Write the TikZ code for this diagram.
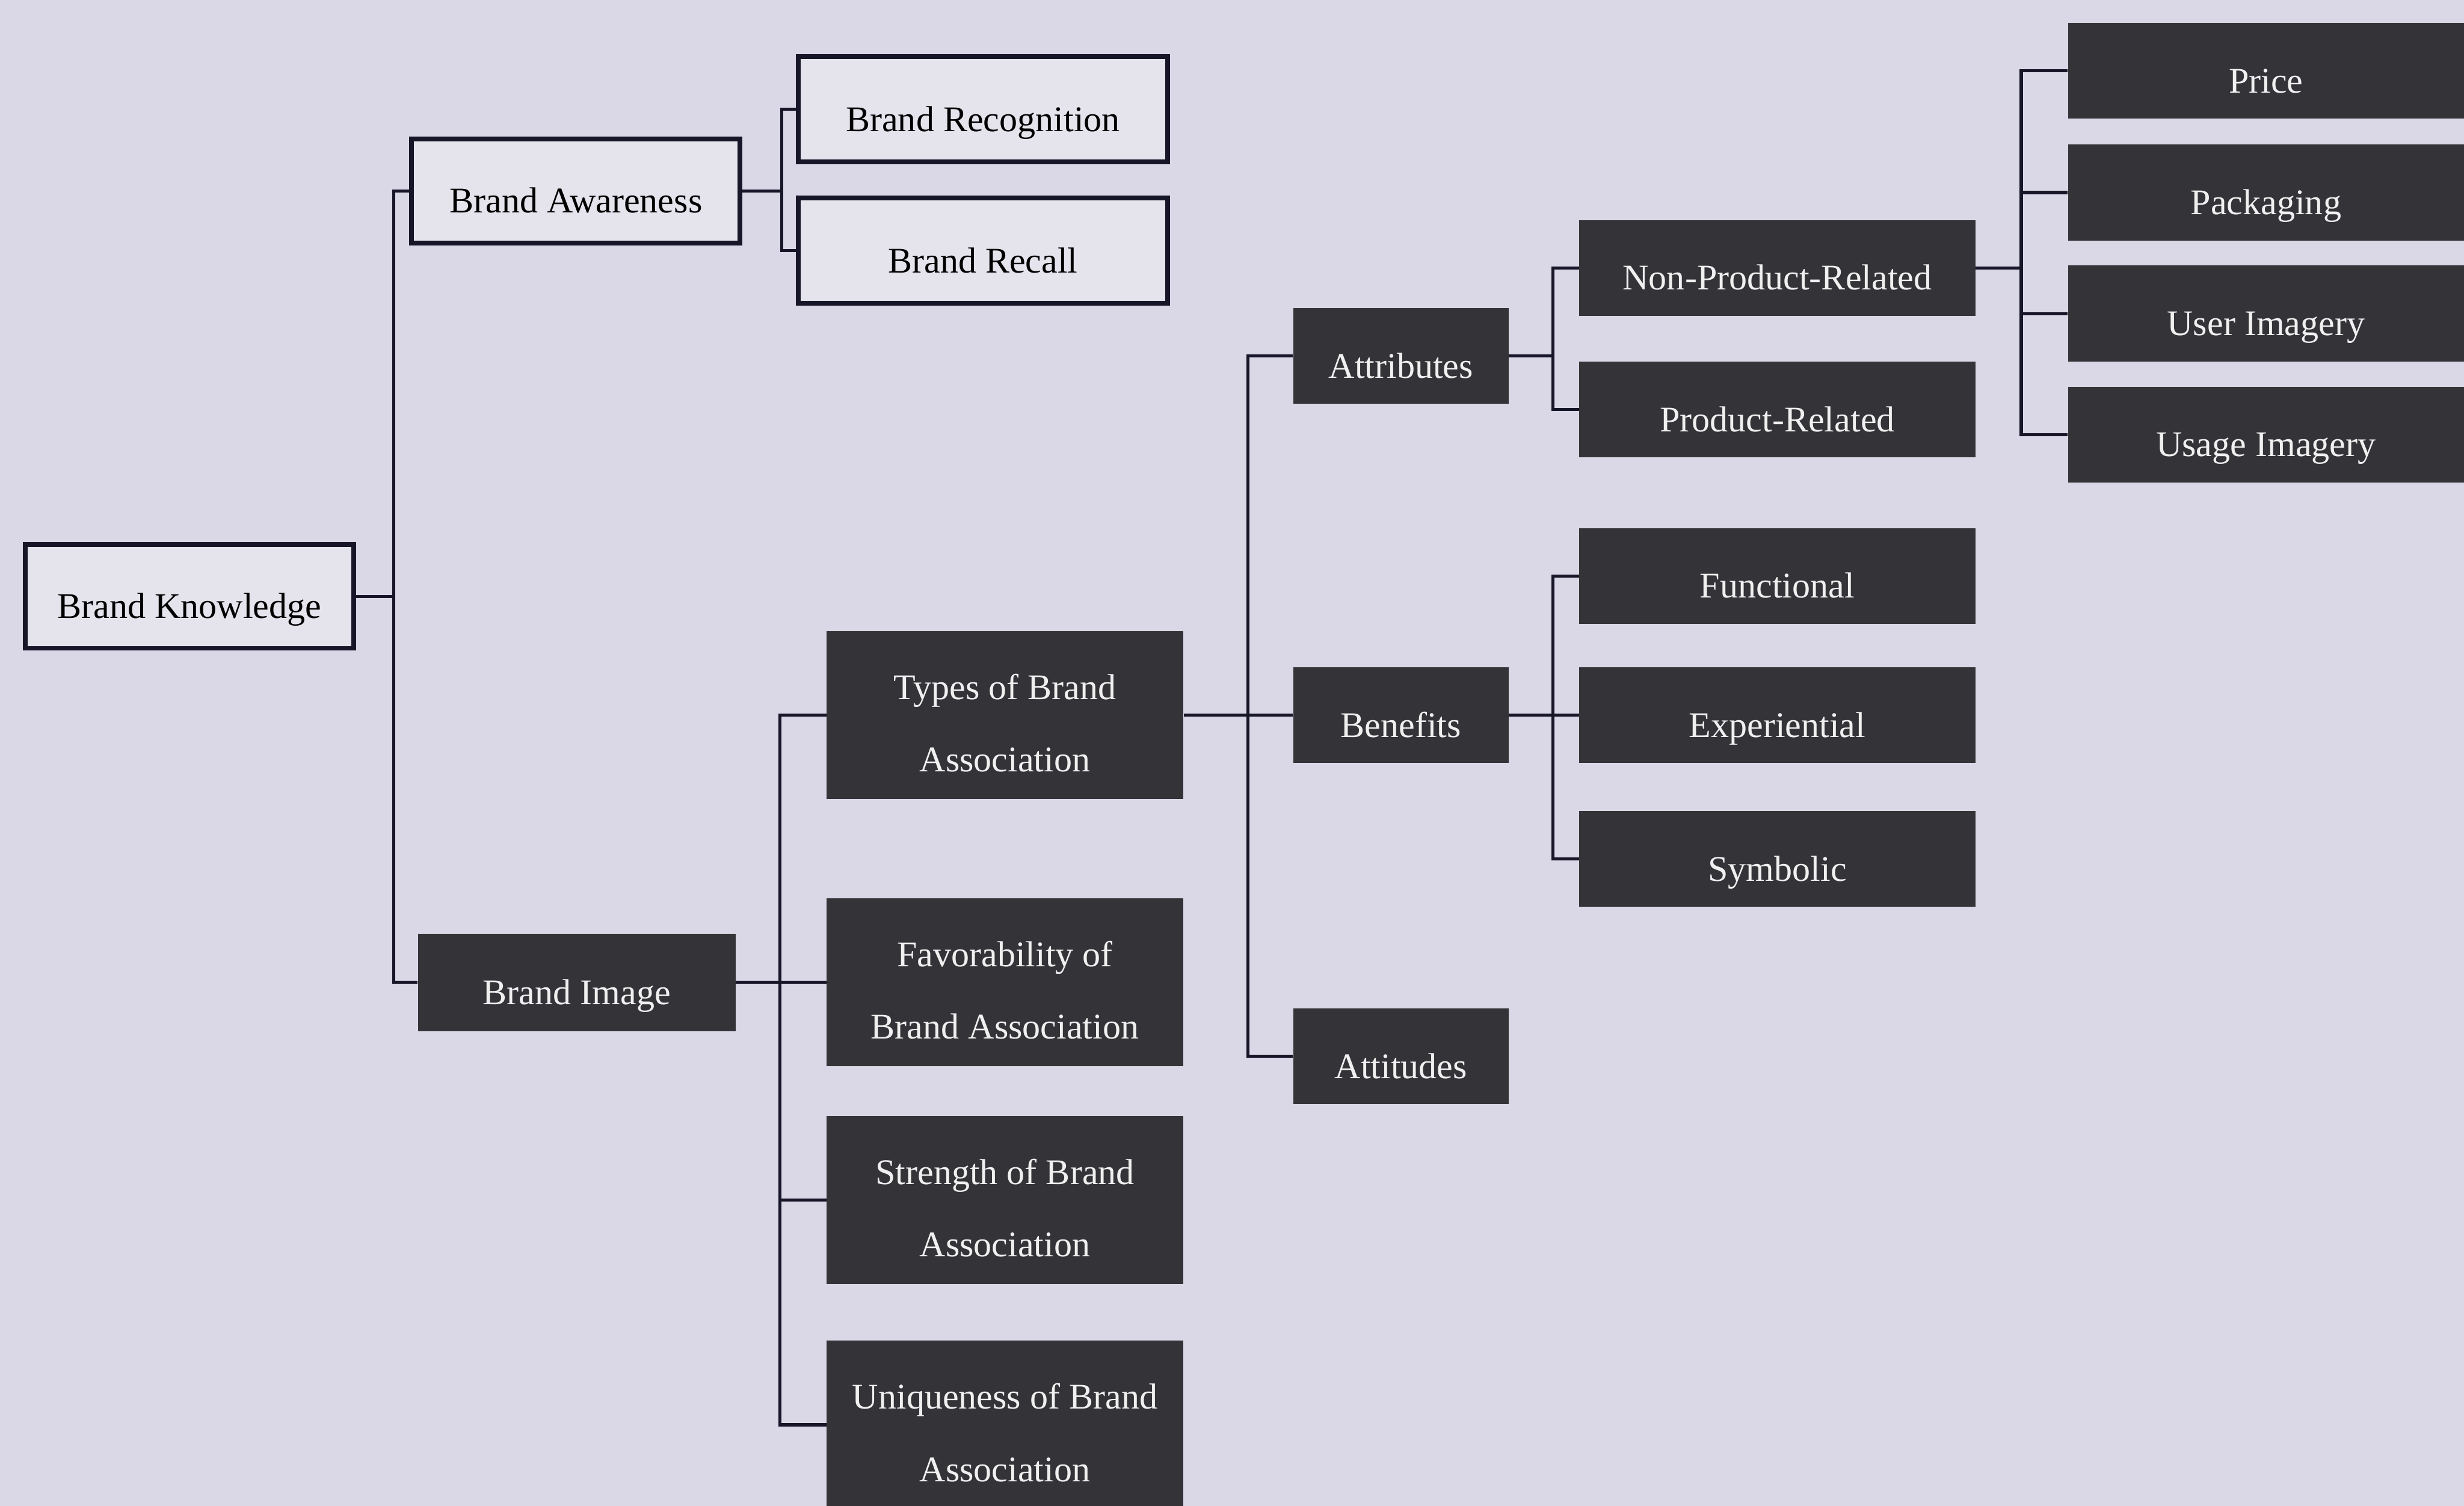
\documentclass[tikz,border=0pt]{standalone}
\usepackage{fontspec}
\setmainfont{Liberation Serif}
\definecolor{paper}{RGB}{218,215,230}
\definecolor{lightfill}{RGB}{229,227,236}
\definecolor{darkfill}{RGB}{52,51,55}
\definecolor{inkline}{RGB}{22,22,40}
\definecolor{lighttext}{RGB}{240,240,240}
\begin{document}
\begin{tikzpicture}[x=1pt,y=-1pt,
  every node/.style={inner sep=0pt, font=\fontsize{23}{46}\selectfont},
  lightbox/.style={draw=inkline, line width=3pt, fill=lightfill, text=black},
  darkbox/.style={fill=darkfill, text=lighttext},
  oneline/.style={text height=28pt, text depth=0pt},
  twoline/.style={align=center, text height=72pt, text depth=0pt},
  sizeA/.style={minimum width=209pt, minimum height=66pt},
  sizeB/.style={minimum width=235pt, minimum height=67pt},
  sizeC/.style={minimum width=227pt, minimum height=107pt},
  sizeD/.style={minimum width=137pt, minimum height=61pt},
  sizeE/.style={minimum width=252pt, minimum height=61pt},
  link/.style={draw=inkline, line width=2pt}]

% page
\fill[paper] (0,0) rectangle (1568,958);
\useasboundingbox (0,0) rectangle (1568,958);

% level 1 and 2
\node[lightbox, oneline, sizeA] (bk) at (120.5,379.5) {Brand Knowledge};
\node[lightbox, oneline, sizeA] (ba) at (366.5,121.5) {Brand Awareness};
\node[darkbox, oneline, minimum width=202pt, minimum height=62pt] (bi) at (367,625) {Brand Image};

% awareness branch
\node[lightbox, oneline, sizeB] (brec) at (625.5,69.5) {Brand Recognition};
\node[lightbox, oneline, sizeB] (brcl) at (625.5,159.5) {Brand Recall};

% image branch
\node[darkbox, twoline, sizeC] (types) at (639.5,455) {Types of Brand\\Association};
\node[darkbox, twoline, sizeC] (fav) at (639.5,625) {Favorability of\\Brand Association};
\node[darkbox, twoline, sizeC] (strg) at (639.5,763.5) {Strength of Brand\\Association};
\node[darkbox, twoline, sizeC] (uniq) at (639.5,906.5) {Uniqueness of Brand\\Association};

% types of association
\node[darkbox, oneline, sizeD] (attr) at (891.5,226.5) {Attributes};
\node[darkbox, oneline, sizeD] (ben) at (891.5,455) {Benefits};
\node[darkbox, oneline, sizeD] (atti) at (891.5,672) {Attitudes};

% attributes
\node[darkbox, oneline, sizeE] (npr) at (1131,170.5) {Non-Product-Related};
\node[darkbox, oneline, sizeE] (prel) at (1131,260.5) {Product-Related};

% benefits
\node[darkbox, oneline, sizeE] (func) at (1131,366.5) {Functional};
\node[darkbox, oneline, sizeE] (expr) at (1131,455) {Experiential};
\node[darkbox, oneline, sizeE] (symb) at (1131,546.5) {Symbolic};

% non-product-related attributes
\node[darkbox, oneline, sizeE] (price) at (1442,45) {Price};
\node[darkbox, oneline, sizeE] (pack) at (1442,122.5) {Packaging};
\node[darkbox, oneline, sizeE] (user) at (1442,199.5) {User Imagery};
\node[darkbox, oneline, sizeE] (usage) at (1442,276.5) {Usage Imagery};

% junctions of the bracket connectors
\coordinate (jbk) at ([xshift=24pt]bk.east);
\coordinate (jba) at ([xshift=25pt]ba.east);
\coordinate (jbi) at ([xshift=28pt]bi.east);
\coordinate (jty) at ([xshift=41pt]types.east);
\coordinate (jat) at ([xshift=28pt]attr.east);
\coordinate (jbe) at ([xshift=28pt]ben.east);
\coordinate (jnp) at ([xshift=29pt]npr.east);

% connectors
\draw[link] (bk.east) -- (jbk);
\draw[link] (jbk) |- (ba.west);
\draw[link] (jbk) |- (bi.west);

\draw[link] (ba.east) -- (jba);
\draw[link] (jba) |- (brec.west);
\draw[link] (jba) |- (brcl.west);

\draw[link] (bi.east) -- (jbi);
\draw[link] (jbi) |- (types.west);
\draw[link] (jbi) |- (fav.west);
\draw[link] (jbi) |- (strg.west);
\draw[link] (jbi) |- (uniq.west);

\draw[link] (types.east) -- (jty);
\draw[link] (jty) |- (attr.west);
\draw[link] (jty) |- (ben.west);
\draw[link] (jty) |- (atti.west);

\draw[link] (attr.east) -- (jat);
\draw[link] (jat) |- (npr.west);
\draw[link] (jat) |- (prel.west);

\draw[link] (ben.east) -- (jbe);
\draw[link] (jbe) |- (func.west);
\draw[link] (jbe) |- (expr.west);
\draw[link] (jbe) |- (symb.west);

\draw[link] (npr.east) -- (jnp);
\draw[link] (jnp) |- (price.west);
\draw[link] (jnp) |- (pack.west);
\draw[link] (jnp) |- (user.west);
\draw[link] (jnp) |- (usage.west);
\end{tikzpicture}
\end{document}
